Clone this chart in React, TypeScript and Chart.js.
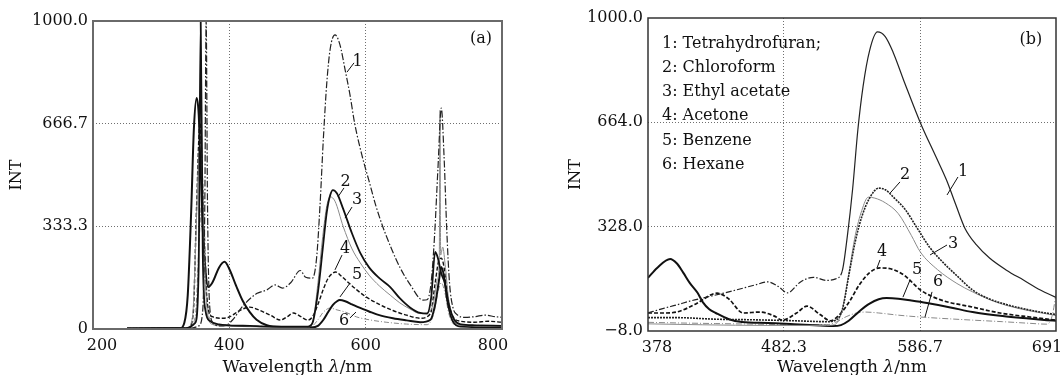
import React, { useEffect, useRef } from 'react';
import { Chart, registerables } from 'chart.js';

Chart.register(...registerables);

type Pt = [number, number];

// ---------- axis ticks ----------
const xTicksA = [200, 400, 600, 800];
const yTicksA = [0, 333.3, 666.7, 1000];
const xTicksB = [378, 482.3, 586.7, 691];
const yTicksB = [-8, 328, 664, 1000];

const curveNames = ['1', '2', '3', '4', '5', '6'];
const legendLines = ['1: Tetrahydrofuran;', '2: Chloroform', '3: Ethyl acetate', '4: Acetone', '5: Benzene', '6: Hexane'];

// ---------- panel (a) spectra: [wavelength nm, intensity] ----------
const a1: Pt[] = [[250, 2], [330, 2], [345, 3], [355, 10], [361, 60], [364, 400], [366, 1000], [368, 400], [371, 80], [376, 20], [385, 10], [395, 12], [405, 30], [420, 75], [440, 115], [455, 127], [467, 143], [478, 133], [490, 150], [504, 190], [512, 168], [522, 165], [528, 230], [533, 400], [538, 620], [543, 800], [548, 910], [555, 955], [562, 925], [570, 840], [577, 760], [584, 666], [595, 560], [605, 480], [615, 400], [625, 333], [638, 260], [650, 201], [665, 145], [684, 94], [690, 95], [696, 150], [701, 300], [706, 520], [711, 717], [715, 560], [719, 320], [723, 150], [728, 70], [735, 45], [745, 38], [760, 40], [775, 45], [790, 40], [800, 38]];
const a2: Pt[] = [[250, 2], [335, 3], [350, 20], [355, 200], [358, 1000], [361, 250], [365, 60], [372, 25], [385, 15], [400, 12], [430, 10], [460, 8], [490, 8], [515, 8], [522, 20], [530, 120], [537, 260], [543, 380], [548, 435], [552, 451], [558, 440], [567, 390], [580, 310], [592, 247], [605, 200], [620, 165], [636, 136], [650, 100], [665, 70], [680, 52], [690, 50], [696, 100], [702, 250], [706, 230], [711, 180], [716, 150], [722, 80], [730, 30], [740, 15], [760, 12], [800, 10]];
const a3: Pt[] = [[250, 2], [338, 3], [346, 40], [351, 300], [355, 560], [358, 600], [361, 450], [364, 200], [368, 50], [375, 15], [390, 10], [420, 8], [470, 6], [515, 6], [522, 20], [530, 150], [537, 300], [543, 400], [548, 429], [555, 415], [567, 333], [580, 260], [592, 215], [605, 175], [620, 140], [636, 110], [650, 85], [665, 65], [680, 50], [695, 60], [700, 90], [705, 160], [708, 230], [709, 710], [710, 240], [713, 266], [717, 200], [722, 90], [730, 25], [740, 12], [800, 8]];
const a4: Pt[] = [[250, 2], [340, 3], [347, 50], [352, 400], [357, 670], [360, 520], [364, 220], [368, 80], [375, 40], [390, 35], [400, 39], [415, 60], [430, 71], [445, 60], [460, 45], [475, 29], [485, 40], [494, 52], [505, 40], [515, 29], [522, 40], [530, 80], [538, 130], [545, 165], [551, 180], [556, 185], [565, 170], [575, 150], [587, 127], [600, 105], [620, 80], [640, 60], [660, 45], [680, 35], [695, 50], [702, 150], [707, 220], [711, 230], [715, 200], [720, 110], [728, 40], [740, 25], [760, 22], [780, 25], [800, 22]];
const a5: Pt[] = [[250, 2], [328, 3], [334, 20], [339, 110], [344, 380], [348, 650], [352, 750], [355, 700], [358, 520], [361, 330], [365, 190], [369, 136], [375, 150], [385, 200], [393, 218], [400, 195], [410, 140], [420, 90], [430, 55], [440, 30], [455, 12], [480, 6], [520, 5], [530, 10], [538, 30], [545, 55], [552, 78], [558, 90], [562, 94], [570, 90], [580, 80], [590, 70], [605, 57], [620, 45], [640, 35], [660, 28], [680, 22], [695, 30], [702, 80], [707, 150], [711, 201], [715, 170], [720, 90], [728, 25], [740, 8], [800, 5]];
const a6: Pt[] = [[250, 2], [340, 3], [350, 40], [356, 300], [360, 420], [364, 300], [368, 80], [375, 20], [390, 12], [420, 10], [470, 8], [515, 6], [522, 10], [530, 30], [538, 55], [548, 68], [558, 62], [570, 55], [587, 39], [605, 30], [630, 22], [660, 16], [690, 14], [700, 50], [706, 120], [711, 150], [716, 120], [722, 50], [730, 15], [760, 12], [800, 10]];

// ---------- panel (b) spectra ----------
const b1: Pt[] = [[378, 50], [390, 65], [400, 76], [410, 88], [420, 98], [440, 118], [460, 140], [470, 150], [478, 135], [485, 115], [495, 150], [505, 165], [515, 155], [522, 160], [527, 185], [531, 300], [535, 450], [539, 640], [543, 780], [548, 895], [554, 955], [560, 940], [566, 890], [575, 790], [587, 662], [599, 552], [607, 478], [614, 400], [621, 324], [630, 269], [640, 227], [653, 188], [666, 156], [679, 124], [691, 100]];
const b2: Pt[] = [[378, 35], [400, 35], [430, 30], [460, 28], [490, 25], [515, 22], [521, 25], [527, 60], [532, 170], [537, 280], [542, 360], [548, 420], [555, 452], [560, 447], [567, 420], [575, 385], [585, 320], [594, 262], [605, 210], [615, 170], [627, 124], [640, 95], [655, 75], [668, 62], [679, 53], [691, 45]];
const b3: Pt[] = [[378, 15], [420, 12], [470, 10], [515, 10], [521, 12], [527, 60], [532, 175], [537, 300], [542, 380], [547, 423], [552, 420], [560, 405], [570, 370], [580, 300], [587, 246], [600, 190], [615, 145], [627, 118], [645, 85], [665, 62], [680, 50], [691, 42]];
const b4: Pt[] = [[378, 50], [390, 50], [400, 53], [415, 80], [431, 114], [440, 95], [451, 50], [464, 53], [475, 40], [481, 27], [492, 50], [500, 72], [510, 45], [518, 25], [525, 45], [533, 90], [540, 140], [548, 180], [556, 195], [566, 190], [575, 170], [587, 124], [602, 93], [627, 69], [648, 50], [671, 37], [691, 27]];
const b5: Pt[] = [[378, 163], [385, 195], [395, 224], [400, 210], [405, 180], [410, 147], [416, 115], [420, 85], [425, 62], [430, 50], [440, 30], [450, 21], [470, 18], [490, 14], [510, 10], [520, 8], [526, 11], [532, 25], [540, 55], [548, 80], [555, 94], [561, 98], [570, 96], [580, 90], [592, 82], [610, 68], [627, 53], [650, 40], [670, 32], [684, 27], [691, 25]];
const b6: Pt[] = [[378, 20], [400, 18], [430, 16], [460, 14], [490, 12], [515, 12], [522, 20], [530, 38], [538, 50], [545, 53], [555, 50], [570, 43], [587, 37], [610, 31], [627, 27], [650, 22], [670, 17], [684, 14], [688, 40], [691, 110]];

const seriesA = [a1, a2, a3, a4, a5, a6];
const seriesB = [b1, b2, b3, b4, b5, b6];

// ---------- styles ----------
const FONT_FAMILY = "'DejaVu Serif', 'Liberation Serif', serif";
const FONT = `16px ${FONT_FAMILY}`;
const TITLE_FONT = `17px ${FONT_FAMILY}`;
const TXT = '#111';

const stylesA = [
  { c: '#222', w: 1.2, d: [7, 2, 1.5, 2] },
  { c: '#111', w: 1.8, d: [] },
  { c: '#8a8a8a', w: 1, d: [] },
  { c: '#111', w: 1.4, d: [4, 2] },
  { c: '#111', w: 2, d: [] },
  { c: '#888', w: 1, d: [5, 2, 1, 2] },
];
const stylesB = [
  { c: '#222', w: 1.2, d: [], lowDash: [6, 2, 1.5, 2], lowUntil: 527 },
  { c: '#222', w: 1.6, d: [2, 1] },
  { c: '#8a8a8a', w: 1, d: [] },
  { c: '#111', w: 1.7, d: [4, 2] },
  { c: '#111', w: 2, d: [] },
  { c: '#888', w: 1, d: [6, 2, 1, 2] },
];

// annotation placement in data coordinates
const labelsA = [
  { t: '1', x: 588, y: 873, x1: 582.9, y1: 864, x2: 572.6, y2: 834 },
  { t: '2', x: 570.4, y: 484, x1: 568.2, y1: 458, x2: 559.4, y2: 429 },
  { t: '3', x: 587.3, y: 425, x1: 580, y1: 396, x2: 569.7, y2: 360 },
  { t: '4', x: 569.7, y: 266, x1: 565.3, y1: 240, x2: 555, y2: 192 },
  { t: '5', x: 587.3, y: 182, x1: 577, y1: 149, x2: 562.3, y2: 104 },
  { t: '6', x: 568.2, y: 32, x1: 577, y1: 36, x2: 585.8, y2: 55 },
];
const labelsB = [
  { t: '1', x: 619.7, y: 510, x1: 615.8, y1: 488, x2: 607.4, y2: 430 },
  { t: '2', x: 575.2, y: 501, x1: 571.3, y1: 472, x2: 563.7, y2: 436 },
  { t: '3', x: 612.0, y: 279, x1: 607.4, y1: 269, x2: 594.4, y2: 237 },
  { t: '4', x: 557.5, y: 253, x1: 556, y1: 221, x2: 553.7, y2: 195 },
  { t: '5', x: 584.4, y: 195, x1: 579, y1: 156, x2: 573.6, y2: 101 },
  { t: '6', x: 600.5, y: 156, x1: 595.9, y1: 118, x2: 590.5, y2: 37 },
];

const overlay = {
  id: 'overlay',
  afterDraw(chart: any, _a: any, o: any) {
    const { ctx, chartArea: ca, scales } = chart;
    const xs = scales.x;
    const ys = scales.y;
    ctx.save();
    ctx.setLineDash([]);
    ctx.strokeStyle = o.frameColor;
    ctx.lineWidth = o.frameWidth;
    ctx.strokeRect(ca.left, ca.top, ca.right - ca.left, ca.bottom - ca.top);

    ctx.fillStyle = TXT;
    ctx.font = FONT;
    ctx.textBaseline = 'alphabetic';
    ctx.textAlign = 'center';
    const n = o.xTicks.length;
    o.xTicks.forEach((t: number, i: number) => {
      let px = xs.getPixelForValue(t);
      if (i === 0) px += 9;
      else if (i === n - 1) px -= 9;
      ctx.fillText(String(t), px, ca.bottom + 21);
    });

    // x title with italic lambda
    const p1 = 'Wavelength ';
    const p2 = 'λ';
    const p3 = '/nm';
    const italic = `italic ${TITLE_FONT}`;
    ctx.font = TITLE_FONT;
    const w1 = ctx.measureText(p1).width;
    const w3 = ctx.measureText(p3).width;
    ctx.font = italic;
    const w2 = ctx.measureText(p2).width;
    const total = w1 + w2 + w3;
    let sx = (ca.left + ca.right) / 2 - total / 2;
    const ty = chart.height - 3;
    ctx.textAlign = 'left';
    ctx.font = TITLE_FONT;
    ctx.fillText(p1, sx, ty);
    sx += w1;
    ctx.font = italic;
    ctx.fillText(p2, sx, ty);
    sx += w2;
    ctx.font = TITLE_FONT;
    ctx.fillText(p3, sx, ty);

    // curve labels and leaders
    ctx.font = FONT;
    ctx.textAlign = 'center';
    ctx.strokeStyle = '#111';
    ctx.lineWidth = 1;
    o.labels.forEach((l: any) => {
      ctx.fillText(l.t, xs.getPixelForValue(l.x), ys.getPixelForValue(l.y) + 6);
      ctx.beginPath();
      ctx.moveTo(xs.getPixelForValue(l.x1), ys.getPixelForValue(l.y1));
      ctx.lineTo(xs.getPixelForValue(l.x2), ys.getPixelForValue(l.y2));
      ctx.stroke();
    });

    // panel tag
    ctx.fillText(o.tag.t, xs.getPixelForValue(o.tag.x), ys.getPixelForValue(o.tag.y) + 6);

    // legend text
    if (o.legend) {
      ctx.textAlign = 'left';
      const lx = xs.getPixelForValue(o.legend.x);
      const ly = ys.getPixelForValue(o.legend.y);
      o.legend.lines.forEach((s: string, i: number) => {
        ctx.fillText(s, lx, ly + i * 24.1);
      });
    }
    ctx.restore();
  },
};

const gridColor = (c: any) => {
  const t = c.tick;
  const s = c.scale;
  if (!t) return 'rgba(0,0,0,0)';
  if (Math.abs(t.value - s.min) < 1e-6 || Math.abs(t.value - s.max) < 1e-6) return 'rgba(0,0,0,0)';
  return '#6f6f6f';
};

function buildConfig(p: any) {
  const datasets = p.series.map((pts: Pt[], i: number) => {
    const st = p.styles[i];
    const ds: any = {
      label: curveNames[i],
      data: pts.map(([x, y]) => ({ x, y })),
      borderColor: st.c,
      borderWidth: st.w,
      borderDash: st.d,
      pointRadius: 0,
      fill: false,
      cubicInterpolationMode: 'monotone',
    };
    if (st.lowDash) {
      ds.segment = {
        borderDash: (c: any) => (c.p1.parsed.x <= st.lowUntil ? st.lowDash : undefined),
      };
    }
    return ds;
  });
  return {
    type: 'line',
    data: { datasets },
    plugins: [overlay],
    options: {
      responsive: false,
      animation: false,
      devicePixelRatio: 1,
      layout: { padding: p.padding },
      plugins: {
        legend: { display: false },
        tooltip: { enabled: false },
        overlay: {
          frameColor: p.frameColor,
          frameWidth: p.frameWidth,
          xTicks: p.xTicks,
          labels: p.labels,
          tag: p.tag,
          legend: p.legend,
        },
      },
      scales: {
        x: {
          type: 'linear',
          min: p.xTicks[0],
          max: p.xTicks[p.xTicks.length - 1],
          afterBuildTicks: (s: any) => {
            s.ticks = p.xTicks.map((v: number) => ({ value: v }));
          },
          afterFit: (s: any) => {
            s.height = p.xHeight;
          },
          ticks: { display: false },
          grid: { drawTicks: false, color: gridColor, lineWidth: 1 },
          border: { display: false, dash: [1, 2] },
        },
        y: {
          type: 'linear',
          min: p.yTicks[0],
          max: p.yTicks[p.yTicks.length - 1],
          afterBuildTicks: (s: any) => {
            s.ticks = p.yTicks.map((v: number) => ({ value: v }));
          },
          afterFit: (s: any) => {
            s.width = p.yWidth;
          },
          ticks: {
            padding: 5,
            color: TXT,
            font: { family: FONT_FAMILY, size: 16 },
            callback: p.yFmt,
          },
          grid: { drawTicks: false, color: gridColor, lineWidth: 1 },
          border: { display: false, dash: [1, 2] },
          title: {
            display: true,
            text: 'INT',
            color: TXT,
            font: { family: FONT_FAMILY, size: 16 },
            padding: { top: p.yTitlePad, bottom: 0 },
          },
        },
      },
    },
  };
}

export default function App() {
  const refA = useRef<HTMLCanvasElement>(null);
  const refB = useRef<HTMLCanvasElement>(null);

  useEffect(() => {
    const cfgA = buildConfig({
      series: seriesA,
      styles: stylesA,
      xTicks: xTicksA,
      yTicks: yTicksA,
      yFmt: (v: number) => (v === 0 ? '0' : Number(v).toFixed(1)),
      padding: { top: 21, right: 28, left: 0, bottom: 0 },
      xHeight: 46,
      yWidth: 93,
      yTitlePad: 7,
      frameColor: '#6a6a6a',
      frameWidth: 2,
      labels: labelsA,
      tag: { t: '(a)', x: 769.2, y: 948 },
      legend: null,
    });
    const cfgB = buildConfig({
      series: seriesB,
      styles: stylesB,
      xTicks: xTicksB,
      yTicks: yTicksB,
      yFmt: (v: number) => (v < 0 ? '−' + Math.abs(v).toFixed(1) : Number(v).toFixed(1)),
      padding: { top: 18, right: 8, left: 0, bottom: 0 },
      xHeight: 44,
      yWidth: 118,
      yTitlePad: 36,
      frameColor: '#333',
      frameWidth: 1.5,
      labels: labelsB,
      tag: { t: '(b)', x: 671.8, y: 936 },
      legend: { x: 388.7, y: 903, lines: legendLines },
    });
    const ca = new Chart(refA.current as HTMLCanvasElement, cfgA as any);
    const cb = new Chart(refB.current as HTMLCanvasElement, cfgB as any);
    return () => {
      ca.destroy();
      cb.destroy();
    };
  }, []);

  return (
    <div style={{ position: 'absolute', left: 0, top: 0, width: 1064, height: 375, background: '#fff' }}>
      <canvas ref={refA} width={530} height={375} style={{ position: 'absolute', left: 0, top: 0, width: 530, height: 375 }} />
      <canvas ref={refB} width={534} height={375} style={{ position: 'absolute', left: 530, top: 0, width: 534, height: 375 }} />
    </div>
  );
}
